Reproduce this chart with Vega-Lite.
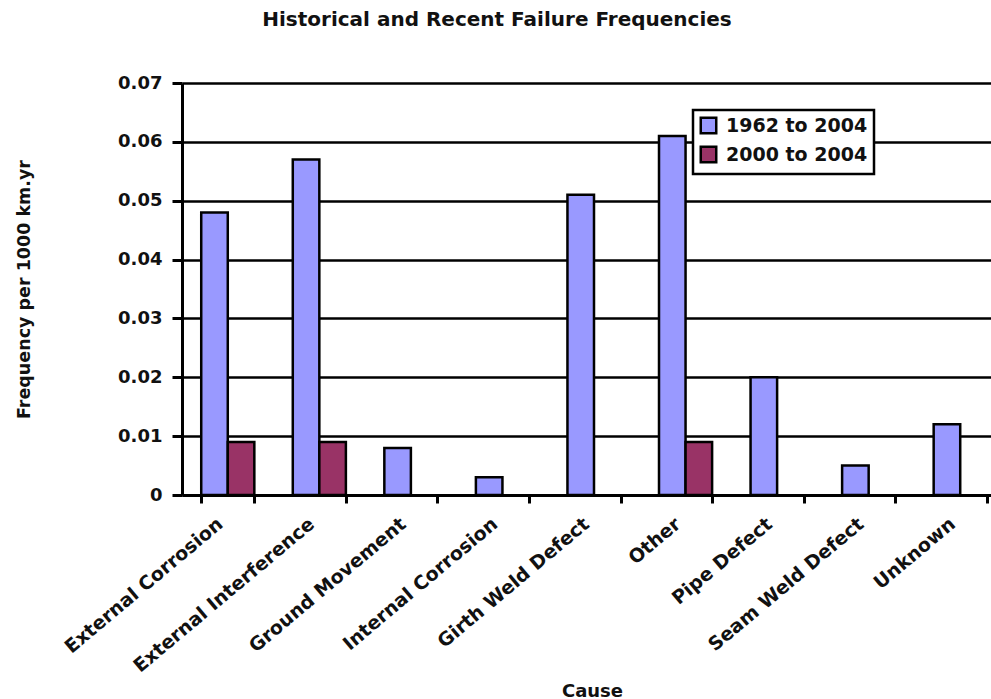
{
  "$schema": "https://vega.github.io/schema/vega-lite/v6.json",
  "autosize": "none",
  "width": 824,
  "height": 412,
  "padding": {"left": 182, "top": 83, "right": 0, "bottom": 204},
  "background": "white",
  "title": {
    "text": "Historical and Recent Failure Frequencies",
    "font": "DejaVu Sans",
    "fontSize": 20,
    "fontWeight": "bold",
    "color": "#111",
    "anchor": "middle",
    "dx": -97,
    "baseline": "alphabetic",
    "offset": 28
  },
  "config": {
    "view": {"stroke": null},
    "font": "DejaVu Sans",
    "legend": {
      "strokeColor": "black",
      "strokeWidth": 2.5,
      "fillColor": "white",
      "padding": 6,
      "rowPadding": 2,
      "symbolType": "square",
      "symbolSize": 240,
      "symbolStrokeColor": "black",
      "symbolStrokeWidth": 2.5,
      "symbolOpacity": 1,
      "labelFont": "DejaVu Sans",
      "labelFontSize": 19,
      "labelFontWeight": "bold",
      "labelColor": "#111",
      "labelOffset": 8,
      "labelLimit": 300
    }
  },
  "data": {
    "values": [
      {"cause": "External Corrosion", "period": "1962 to 2004", "value": 0.048},
      {"cause": "External Corrosion", "period": "2000 to 2004", "value": 0.009},
      {"cause": "External Interference", "period": "1962 to 2004", "value": 0.057},
      {"cause": "External Interference", "period": "2000 to 2004", "value": 0.009},
      {"cause": "Ground Movement", "period": "1962 to 2004", "value": 0.008},
      {"cause": "Internal Corrosion", "period": "1962 to 2004", "value": 0.003},
      {"cause": "Girth Weld Defect", "period": "1962 to 2004", "value": 0.051},
      {"cause": "Other", "period": "1962 to 2004", "value": 0.061},
      {"cause": "Other", "period": "2000 to 2004", "value": 0.009},
      {"cause": "Pipe Defect", "period": "1962 to 2004", "value": 0.020},
      {"cause": "Seam Weld Defect", "period": "1962 to 2004", "value": 0.005},
      {"cause": "Unknown", "period": "1962 to 2004", "value": 0.012}
    ]
  },
  "mark": {"type": "bar", "stroke": "black", "strokeWidth": 2.5, "cornerRadius": 0},
  "encoding": {
    "x": {
      "field": "cause",
      "type": "nominal",
      "sort": ["External Corrosion", "External Interference", "Ground Movement", "Internal Corrosion", "Girth Weld Defect", "Other", "Pipe Defect", "Seam Weld Defect", "Unknown"],
      "scale": {"paddingInner": 0.42, "paddingOuter": 0.21},
      "axis": {
        "title": "Cause",
        "titleFont": "DejaVu Sans",
        "titleFontSize": 18,
        "titleFontWeight": "bold",
        "titleColor": "#111",
        "titleX": 410,
        "titleY": 201,
        "titleBaseline": "alphabetic",
        "labelAngle": -40,
        "labelAlign": "right",
        "labelBaseline": "middle",
        "labelFont": "DejaVu Sans",
        "labelFontSize": 19,
        "labelFontWeight": "bold",
        "labelColor": "#111",
        "labelPadding": 18,
        "labelOffset": -8,
        "labelLimit": 400,
        "tickBand": "extent",
        "tickSize": 8,
        "tickWidth": 3,
        "tickColor": "black",
        "domainColor": "black",
        "domainWidth": 3,
        "grid": false
      }
    },
    "xOffset": {
      "field": "period",
      "type": "nominal",
      "scale": {"paddingInner": 0, "paddingOuter": 0}
    },
    "y": {
      "field": "value",
      "type": "quantitative",
      "scale": {"domain": [0, 0.07], "nice": false},
      "axis": {
        "title": "Frequency per 1000 km.yr",
        "titleFont": "DejaVu Sans",
        "titleFontSize": 17.5,
        "titleFontWeight": "bold",
        "titleColor": "#111",
        "titlePadding": 84,
        "values": [0, 0.01, 0.02, 0.03, 0.04, 0.05, 0.06, 0.07],
        "labelExpr": "datum.value == 0 ? '0' : format(datum.value, '.2f')",
        "labelFont": "DejaVu Sans",
        "labelFontSize": 18,
        "labelFontWeight": "bold",
        "labelColor": "#111",
        "labelPadding": 10,
        "tickSize": 10,
        "tickWidth": 3,
        "tickColor": "black",
        "domainColor": "black",
        "domainWidth": 3,
        "grid": true,
        "gridColor": "black",
        "gridWidth": 2.5,
        "gridOpacity": 1
      }
    },
    "fill": {
      "field": "period",
      "type": "nominal",
      "scale": {"domain": ["1962 to 2004", "2000 to 2004"], "range": ["#9999FF", "#993366"]},
      "legend": {
        "title": null,
        "orient": "none",
        "legendX": 511,
        "legendY": 27,
        "direction": "vertical"
      }
    }
  }
}
